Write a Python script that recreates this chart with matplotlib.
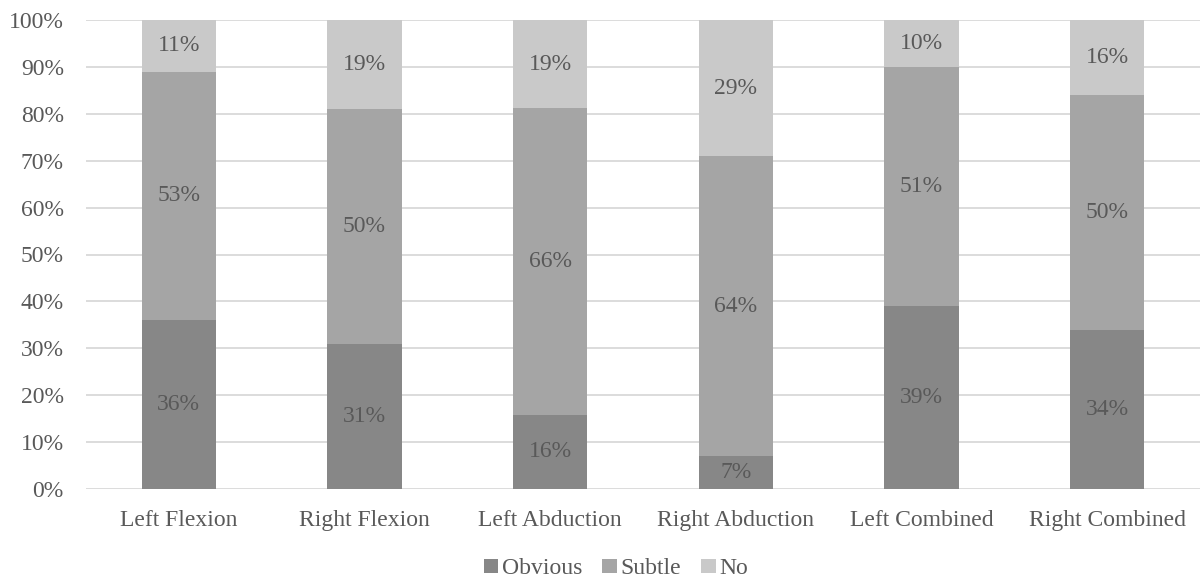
import matplotlib
matplotlib.use("Agg")
import matplotlib.pyplot as plt
import numpy as np

categories = ["Left Flexion", "Right Flexion", "Left Abduction",
              "Right Abduction", "Left Combined", "Right Combined"]
obvious = [36, 31, 16, 7, 39, 34]
subtle = [53, 50, 66, 64, 51, 50]
no = [11, 19, 19, 29, 10, 16]

series_names = ["Obvious", "Subtle", "No"]
colors = ["#878787", "#a5a5a5", "#c9c9c9"]
text_color = "#595959"

plt.rcParams["font.family"] = ["Liberation Serif", "DejaVu Serif"]

fig = plt.figure(figsize=(12, 5.83), dpi=100)
ax = fig.add_axes([86 / 1200, 1 - 489 / 583, (1200 - 86) / 1200, 469 / 583])

data = np.array([obvious, subtle, no], dtype=float)
totals = data.sum(axis=0)
fractions = data / totals

x = np.arange(len(categories))
bottom = np.zeros(len(categories))
for name, vals, frac, col in zip(series_names, data, fractions, colors):
    ax.bar(x, frac, 0.4, bottom=bottom, color=col, label=name, zorder=3)
    for xi, b, f, v in zip(x, bottom, frac, vals):
        ax.text(xi, b + f / 2, f"{int(v)}%", ha="center", va="center",
                fontsize=17, color=text_color, zorder=4)
    bottom += frac

ax.set_xlim(-0.5, len(categories) - 0.5)
ax.set_ylim(0, 1)
ticks = np.linspace(0, 1, 11)
ax.set_yticks(ticks)
ax.set_yticklabels([f"{int(round(t * 100))}%" for t in ticks])
ax.set_xticks(x)
ax.set_xticklabels(categories)
ax.tick_params(axis="both", length=0, labelsize=17, labelcolor=text_color)
ax.tick_params(axis="x", pad=15)
ax.tick_params(axis="y", pad=16)
ax.yaxis.grid(True, color="#d9d9d9", linewidth=1.3, zorder=0)
for s in ax.spines.values():
    s.set_visible(False)

fig.legend(loc="center", bbox_to_anchor=(616 / 1200, 1 - 569 / 583), ncol=3,
           frameon=False, fontsize=17, handlelength=0.62, handleheight=0.55,
           handletextpad=0.15, columnspacing=0.85, labelcolor=text_color,
           borderpad=0, borderaxespad=0)

fig.savefig("out.png", dpi=100)
